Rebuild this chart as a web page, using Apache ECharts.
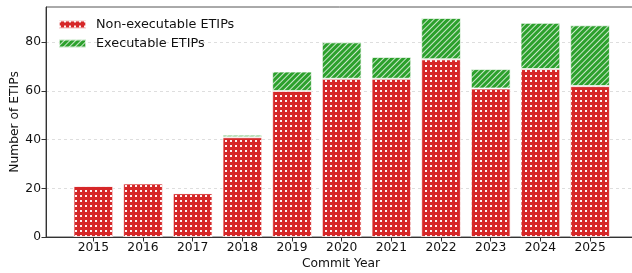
<!DOCTYPE html>
<html>
<head>
<meta charset="utf-8">
<script src="https://cdn.jsdelivr.net/npm/echarts@6/dist/echarts.min.js"></script>
<style>html,body{margin:0;padding:0;background:#fff;}#c{width:632px;height:273px;}</style>
</head>
<body>
<div id="c"></div>
<script>
const years = ['2015','2016','2017','2018','2019','2020','2021','2022','2023','2024','2025'];
const nonExecutable = [21, 22, 18, 41, 60, 65, 65, 73, 61, 69, 62];
const executable = [0, 0, 0, 1, 8, 15, 9, 17, 8, 19, 25];
const yTicks = [0, 20, 40, 60, 80];

const font = 'DejaVu Sans';
const fs = 12.3;
const yMax = 94.5;

const chart = echarts.init(document.getElementById('c'), null, {renderer: 'canvas'});
chart.setOption({
  animation: false,
  textStyle: {fontFamily: font},
  grid: [
    {left: 46, right: -4, top: 7, bottom: 36, outerBoundsMode: 'none', containLabel: false,
     show: true, borderColor: '#555', borderWidth: 1, backgroundColor: 'transparent'},
    {left: 68.5, right: 17.1, top: 7, bottom: 36, outerBoundsMode: 'none', containLabel: false}
  ],
  legend: {
    orient: 'vertical', left: 58, top: 17, padding: 0, itemWidth: 27, itemHeight: 8, itemGap: 4, icon: 'rect',
    textStyle: {fontFamily: font, fontSize: 12.8, color: '#111', lineHeight: 15, padding: [0,0,0,5]},
    data: ['Non-executable ETIPs', 'Executable ETIPs']
  },
  xAxis: [
    {
      gridIndex: 0, type: 'value', min: 0, max: 1,
      name: 'Commit Year', nameLocation: 'middle', nameGap: 21, nameMoveOverlap: false,
      nameTextStyle: {fontFamily: font, fontSize: fs, color: '#111'},
      axisLine: {show: true, onZero: false, lineStyle: {color: '#333', width: 1}},
      axisTick: {show: false}, axisLabel: {show: false}, splitLine: {show: false}
    },
    {
      gridIndex: 1, type: 'category', data: years, boundaryGap: true,
      axisLine: {show: false},
      axisTick: {show: true, alignWithLabel: true, length: 4.5, lineStyle: {color: '#333'}},
      axisLabel: {fontFamily: font, fontSize: fs, color: '#111', margin: 5, interval: 0},
      splitLine: {show: false}
    }
  ],
  yAxis: [
    {
      gridIndex: 0, type: 'value', min: 0, max: yMax,
      name: 'Number of ETIPs', nameLocation: 'middle', nameGap: 25, nameMoveOverlap: false,
      nameTextStyle: {fontFamily: font, fontSize: fs, color: '#111'},
      axisLine: {show: true, onZero: false, lineStyle: {color: '#333', width: 1}},
      axisTick: {show: true, length: 4.5, customValues: yTicks, lineStyle: {color: '#333'}},
      axisLabel: {customValues: yTicks, fontFamily: font, fontSize: fs, color: '#111', margin: 5},
      splitLine: {show: true, lineStyle: {color: '#d6d6d6', type: [3, 3], width: 0.8}}
    },
    {
      gridIndex: 1, type: 'value', min: 0, max: yMax, show: false
    }
  ],
  series: [
    {
      name: 'Non-executable ETIPs', type: 'bar', stack: 'a', barWidth: '80%',
      xAxisIndex: 1, yAxisIndex: 1,
      data: nonExecutable,
      itemStyle: {
        color: '#d62728', borderColor: 'rgba(255,255,255,0.45)', borderWidth: 1,
        decal: {symbol: 'rect', symbolSize: 1, dashArrayX: [2, 3], dashArrayY: [2, 3], color: 'rgba(255,255,255,0.95)'}
      }
    },
    {
      name: 'Executable ETIPs', type: 'bar', stack: 'a', barWidth: '80%',
      xAxisIndex: 1, yAxisIndex: 1,
      data: executable,
      itemStyle: {
        color: '#2ca02c', borderColor: 'rgba(255,255,255,0.45)', borderWidth: 1,
        decal: {symbol: 'rect', symbolSize: 1, dashArrayX: [1, 0], dashArrayY: [1, 3], rotation: -Math.PI / 4, color: 'rgba(255,255,255,0.75)'}
      }
    }
  ]
});
</script>
</body>
</html>
